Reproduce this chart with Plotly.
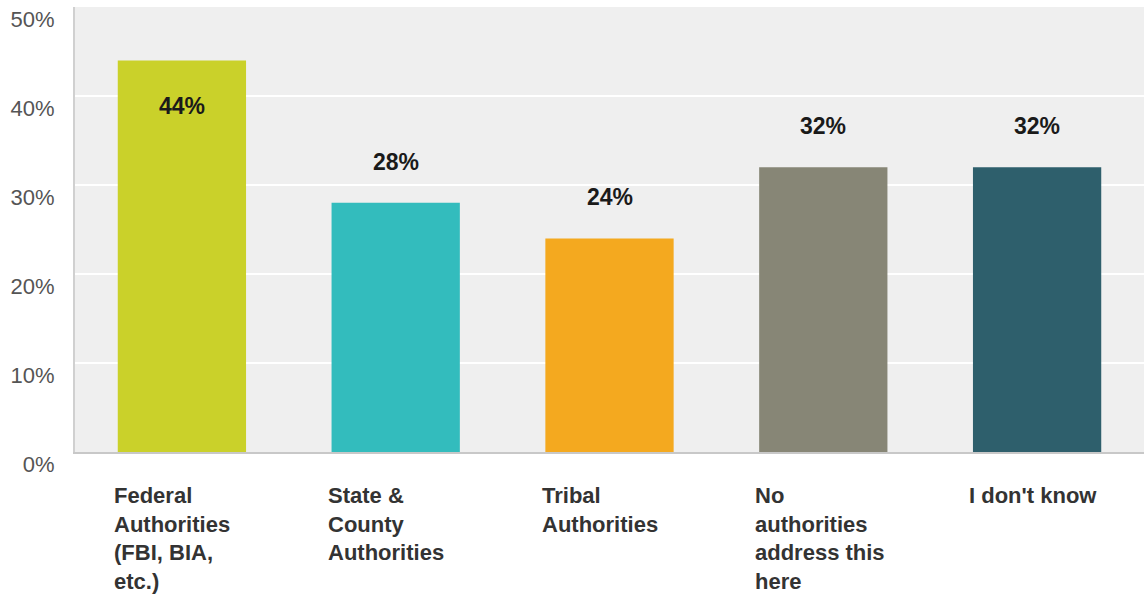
import plotly.graph_objects as go

# Survey responses: which authorities address the issue
categories = ["Federal", "State", "Tribal", "None", "Unknown"]
category_labels = [
    "Federal<br>Authorities<br>(FBI, BIA,<br>etc.)",
    "State &<br>County<br>Authorities",
    "Tribal<br>Authorities",
    "No<br>authorities<br>address this<br>here",
    "I don't know",
]
values = [44, 28, 24, 32, 32]
bar_colors = ["#cad12a", "#33bcbd", "#f4a91f", "#878676", "#2e5f6c"]
tick_values = [0, 10, 20, 30, 40, 50]
tick_text = ["0%", "10%", "20%", "30%", "40%", "50%"]

fig = go.Figure(
    go.Bar(
        x=categories,
        y=values,
        marker=dict(color=bar_colors, line=dict(width=0)),
        hoverinfo="skip",
    )
)

annotations = []
for cat, val in zip(categories, values):
    # value label: above the bar, or inside near the top when there is no room
    inside = val > 40
    annotations.append(
        dict(
            x=cat, y=val, xref="x", yref="y",
            text=f"<b>{val}%</b>",
            showarrow=False,
            yanchor="middle",
            yshift=-46 if inside else 41,
            font=dict(family="Liberation Sans, Arial, sans-serif", size=23, color="#1a1a1a"),
        )
    )

for cat, lab in zip(categories, category_labels):
    annotations.append(
        dict(
            x=cat, y=0, xref="x", yref="y",
            text=f"<b>{lab}</b>",
            showarrow=False,
            xanchor="left", yanchor="top",
            align="left",
            xshift=-70, yshift=-29,
            font=dict(family="Liberation Sans, Arial, sans-serif", size=22, color="#333333"),
        )
    )

fig.update_layout(
    width=1144, height=598,
    margin=dict(l=75, r=0, t=7, b=146),
    paper_bgcolor="#ffffff",
    plot_bgcolor="#efefef",
    bargap=0.4,
    showlegend=False,
    annotations=annotations,
    xaxis=dict(
        showticklabels=False,
        showgrid=False,
        showline=True, linecolor="#c8c8c8", linewidth=2,
        zeroline=False,
        fixedrange=True,
    ),
    yaxis=dict(
        range=[0, 50],
        tickvals=tick_values,
        ticktext=tick_text,
        showgrid=True, gridcolor="#ffffff", gridwidth=2,
        showline=True, linecolor="#d0d0d0", linewidth=2,
        zeroline=False,
        ticks="",
        ticklabelstandoff=14,
        ticklabelshift=12,
        tickfont=dict(family="Liberation Sans, Arial, sans-serif", size=22, color="#555555"),
        fixedrange=True,
    ),
)

fig.write_html("out.html")
